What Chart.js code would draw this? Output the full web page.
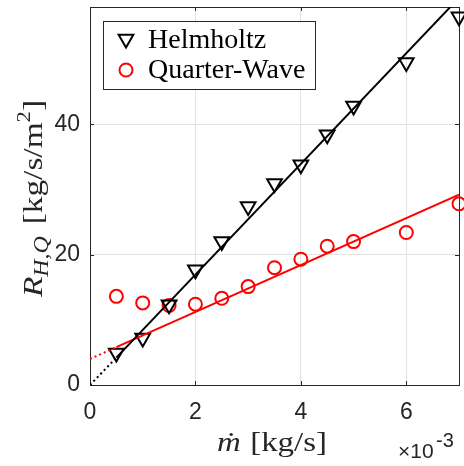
<!DOCTYPE html>
<html>
<head>
<meta charset="utf-8">
<script src="https://cdn.jsdelivr.net/npm/chart.js@4"></script>
<style>
  html, body { margin: 0; padding: 0; background: #fff; }
  canvas { display: block; }
</style>
</head>
<body>
<canvas id="chart" width="464" height="466"></canvas>
<script>
// mass flow, in units of 1e-3 kg/s
const mdot = [0.5, 1, 1.5, 2, 2.5, 3, 3.5, 4, 4.5, 5, 6, 7];
const helmholtz = [4.9, 7.2, 12.3, 17.7, 22.0, 27.4, 30.9, 33.8, 38.4, 42.8, 49.5, 56.5];
const quarterWave = [13.6, 12.6, 12.2, 12.4, 13.3, 15.1, 18.0, 19.3, 21.3, 22.0, 23.4, 27.8];
// fitted lines (first segment dotted, rest solid)
const fitX = [0, 0.5, 7];
const helmFit = [0, 4.2, 59.4];
const qwFit = [4.0, 5.8, 29.2];
const xTicks = [0, 2, 4, 6];
const yTicks = [0, 20, 40];
const seriesNames = ['Helmholtz', 'Quarter-Wave'];

const AXIS = '#262626';
const SERIF = '"Liberation Serif", "Times New Roman", serif';
const SANS = '"Liberation Sans", Arial, sans-serif';

function pts(xs, ys) {
  return xs.map((x, i) => ({ x: x, y: ys[i] }));
}

const dottedFirst = {
  borderDash: ctx => ctx.p0DataIndex === 0 ? [2, 3] : undefined
};

function drawRuns(ctx, runs, cx, baseY, target) {
  let w = 0;
  runs.forEach(r => {
    ctx.font = r.font;
    r.w = ctx.measureText(r.text).width + (r.gap || 0);
    w += r.w;
  });
  const s = target ? target / w : 1;
  ctx.save();
  ctx.translate(cx, baseY);
  ctx.scale(s, 1);
  ctx.textAlign = 'left';
  ctx.textBaseline = 'alphabetic';
  let x = -w / 2;
  runs.forEach(r => {
    ctx.font = r.font;
    ctx.fillText(r.text, x, r.dy || 0);
    x += r.w;
  });
  ctx.restore();
}

const decor = {
  id: 'decor',
  beforeDatasetsDraw(chart) {
    const ctx = chart.ctx;
    const a = chart.chartArea;
    const xs = chart.scales.x, ys = chart.scales.y;
    ctx.save();
    ctx.strokeStyle = AXIS;
    ctx.lineWidth = 1;
    ctx.strokeRect(Math.round(a.left) + 0.5, Math.round(a.top) + 0.5,
      Math.round(a.right - a.left), Math.round(a.bottom - a.top));
    // inward ticks on all four sides
    ctx.beginPath();
    xTicks.forEach(v => {
      const p = Math.round(xs.getPixelForValue(v)) + 0.5;
      ctx.moveTo(p, a.bottom); ctx.lineTo(p, a.bottom - 4);
      ctx.moveTo(p, a.top); ctx.lineTo(p, a.top + 4);
    });
    yTicks.forEach(v => {
      const p = Math.round(ys.getPixelForValue(v)) + 0.5;
      ctx.moveTo(a.left, p); ctx.lineTo(a.left + 4, p);
      ctx.moveTo(a.right, p); ctx.lineTo(a.right - 4, p);
    });
    ctx.stroke();
    ctx.restore();
  },
  afterDraw(chart) {
    const ctx = chart.ctx;
    ctx.save();
    ctx.fillStyle = AXIS;

    // x label
    drawRuns(ctx, [
      { text: '\u1E41', font: 'italic 28px ' + SERIF, gap: 8 },
      { text: '[kg/s]', font: '28px ' + SERIF }
    ], 272, 451, 110);

    // y label (rotated)
    ctx.save();
    ctx.translate(42, 198.5);
    ctx.rotate(-Math.PI / 2);
    drawRuns(ctx, [
      { text: 'R', font: 'italic 28px ' + SERIF },
      { text: 'H,Q', font: 'italic 20px ' + SERIF, dy: 6, gap: 10 },
      { text: '[kg/s/m', font: '28px ' + SERIF },
      { text: '2', font: '19px ' + SERIF, dy: -12 },
      { text: ']', font: '28px ' + SERIF }
    ], 0, 0, 197);
    ctx.restore();

    // exponent
    ctx.font = '21px ' + SANS;
    ctx.textAlign = 'left';
    ctx.textBaseline = 'alphabetic';
    ctx.fillText('\u00D710', 398, 458);
    ctx.font = '20px ' + SANS;
    ctx.fillText('-3', 436, 447);

    // legend
    const lx = 103.5, ly = 21.5, lw = 212, lh = 68;
    ctx.fillStyle = '#fff';
    ctx.fillRect(lx, ly, lw, lh);
    ctx.strokeStyle = AXIS;
    ctx.lineWidth = 1;
    ctx.strokeRect(lx, ly, lw, lh);
    const styles = [
      { pointStyle: 'triangle', rotation: 180, radius: 8.5, borderWidth: 2, color: '#000' },
      { pointStyle: 'circle', rotation: 0, radius: 6.5, borderWidth: 2, color: '#ff0000' }
    ];
    seriesNames.forEach((name, i) => {
      const y = 40 + i * 30;
      const s = styles[i];
      ctx.strokeStyle = s.color;
      ctx.fillStyle = 'rgba(0,0,0,0)';
      ctx.lineWidth = s.borderWidth;
      Chart.helpers.drawPoint(ctx, s, 126, i === 0 ? y - 1 : y);
      ctx.fillStyle = '#000';
      ctx.font = '28px ' + SERIF;
      ctx.textBaseline = 'middle';
      ctx.fillText(name, 148, y + 1);
    });
    ctx.restore();
  }
};

new Chart(document.getElementById('chart'), {
  type: 'scatter',
  data: {
    datasets: [
      {
        label: 'Helmholtz fit',
        type: 'line',
        data: pts(fitX, helmFit),
        borderColor: '#000',
        borderWidth: 2,
        pointRadius: 0,
        fill: false,
        clip: 0,
        segment: dottedFirst,
        order: 0
      },
      {
        label: 'Quarter-Wave fit',
        type: 'line',
        data: pts(fitX, qwFit),
        borderColor: '#ff0000',
        borderWidth: 2,
        pointRadius: 0,
        fill: false,
        clip: 0,
        segment: dottedFirst,
        order: 1
      },
      {
        label: seriesNames[0],
        data: pts(mdot, helmholtz),
        pointStyle: 'triangle',
        rotation: 180,
        pointRadius: 8.5,
        pointBorderWidth: 2,
        borderColor: '#000',
        backgroundColor: 'rgba(0,0,0,0)',
        clip: false,
        order: 2
      },
      {
        label: seriesNames[1],
        data: pts(mdot, quarterWave),
        pointStyle: 'circle',
        pointRadius: 6.5,
        pointBorderWidth: 2,
        borderColor: '#ff0000',
        backgroundColor: 'rgba(0,0,0,0)',
        clip: false,
        order: 3
      }
    ]
  },
  options: {
    responsive: false,
    devicePixelRatio: 1,
    animation: false,
    layout: { autoPadding: false, padding: { top: 7, right: 5, left: 0, bottom: 0 } },
    plugins: {
      legend: { display: false },
      tooltip: { enabled: false }
    },
    scales: {
      x: {
        type: 'linear',
        min: 0,
        max: 7,
        afterBuildTicks: s => { s.ticks = xTicks.map(v => ({ value: v })); },
        afterFit: s => { s.height = 81; s.paddingLeft = 0; s.paddingRight = 0; },
        grid: { color: '#e3e3e3', drawTicks: false },
        border: { display: false },
        ticks: {
          padding: 14,
          color: AXIS,
          font: { family: SANS, size: 23 },
          maxRotation: 0
        }
      },
      y: {
        type: 'linear',
        min: 0,
        max: 58,
        afterBuildTicks: s => { s.ticks = yTicks.map(v => ({ value: v })); },
        afterFit: s => { s.width = 90; s.paddingTop = 0; s.paddingBottom = 0; },
        grid: { color: '#e3e3e3', drawTicks: false },
        border: { display: false },
        ticks: {
          padding: 10,
          color: AXIS,
          font: { family: SANS, size: 23 }
        }
      }
    }
  },
  plugins: [decor]
});
</script>
</body>
</html>
